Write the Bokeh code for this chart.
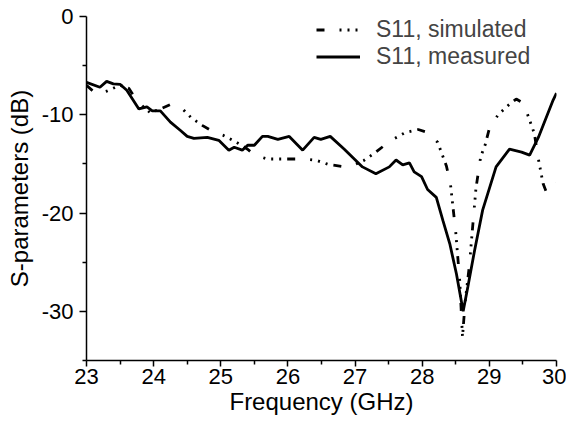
from bokeh.plotting import figure
from bokeh.models import FixedTicker, Legend, LegendItem, Range1d
from bokeh.embed import file_html
from bokeh.resources import INLINE

meas_freq = [23.0, 23.2, 23.3, 23.4, 23.5, 23.6, 23.78, 23.9, 23.98, 24.1, 24.25, 24.4, 24.5,
             24.6, 24.8, 24.97, 25.12, 25.2, 25.32, 25.4, 25.5, 25.62, 25.7, 25.85, 26.02,
             26.22, 26.39, 26.49, 26.63, 26.84, 27.11, 27.31, 27.51, 27.61, 27.71, 27.81,
             27.88, 27.99, 28.08, 28.21, 28.31, 28.41, 28.51, 28.61, 28.68, 28.78, 28.9,
             29.1, 29.3, 29.48, 29.6, 29.73, 29.95, 30.0]
meas_s11 = [-6.7, -7.2, -6.6, -6.85, -6.9, -7.5, -9.4, -9.2, -9.6, -9.6, -10.75, -11.6, -12.2,
            -12.4, -12.3, -12.6, -13.6, -13.3, -13.6, -13.1, -13.1, -12.2, -12.2, -12.5, -12.2,
            -13.6, -12.3, -12.5, -12.2, -13.5, -15.3, -16.0, -15.3, -14.6, -15.1, -14.9,
            -15.8, -16.3, -17.6, -18.4, -20.8, -23.1, -26.2, -30.0, -27.5, -23.8, -19.7,
            -15.3, -13.5, -13.8, -14.1, -12.3, -8.5, -7.8]

sim_freq = [23.0, 23.15, 23.3, 23.5, 23.63, 23.75, 23.95, 24.1, 24.25, 24.43, 24.56, 24.73,
            24.88, 25.04, 25.21, 25.4, 25.5, 25.7, 25.88, 26.1, 26.25, 26.43, 26.6, 26.8,
            26.97, 27.13, 27.29, 27.44, 27.59, 27.75, 27.94, 28.08, 28.23, 28.29, 28.36,
            28.42, 28.5, 28.56, 28.6, 28.64, 28.7, 28.75, 28.8, 28.87, 28.94, 29.0, 29.13,
            29.28, 29.4, 29.5, 29.55, 29.67, 29.73, 29.8, 29.85, 30.0]
sim_s11 = [-7.0, -7.9, -7.6, -7.0, -7.3, -8.6, -9.8, -9.4, -8.95, -9.4, -10.3, -11.1,
           -11.7, -12.1, -12.7, -13.5, -14.1, -14.5, -14.5, -14.5, -14.5, -14.65, -15.05, -15.25,
           -15.15, -14.65, -13.9, -13.1, -12.4, -11.8, -11.5, -11.8, -12.8, -13.9, -15.2,
           -17.0, -22.0, -27.0, -32.6, -29.0, -25.5, -21.5, -17.5, -14.3, -13.0, -11.4, -10.0,
           -9.05, -8.4, -8.8, -9.6, -11.9, -14.5, -17.0, -17.9, -17.0]

x_ticks = [23, 24, 25, 26, 27, 28, 29, 30]
x_minor = [23.5, 24.5, 25.5, 26.5, 27.5, 28.5, 29.5]
y_ticks = [-30, -20, -10, 0]
y_minor = [-35, -25, -15, -5]

FONT = "Liberation Sans"

p = figure(width=566, height=423, output_backend="svg", toolbar_location=None,
           x_range=Range1d(23, 30), y_range=Range1d(-35, 0),
           min_border_left=86, min_border_right=10, min_border_top=16, min_border_bottom=63)
p.outline_line_color = None
p.xgrid.visible = False
p.ygrid.visible = False
p.background_fill_color = "white"

r_sim = p.line(sim_freq, sim_s11, line_color="black", line_width=2.8,
               line_dash="8 15 2 6 2 6 2 6")
r_meas = p.line(meas_freq, meas_s11, line_color="black", line_width=2.8)

for ax in (p.xaxis[0], p.yaxis[0]):
    ax.axis_line_width = 1.5
    ax.major_tick_line_width = 1.5
    ax.minor_tick_line_width = 1.5
    ax.major_label_text_font = FONT
    ax.major_label_text_font_size = "22px"
    ax.major_label_text_color = "black"
    ax.axis_label_text_font = FONT
    ax.axis_label_text_font_size = "24px"
    ax.axis_label_text_font_style = "normal"
    ax.axis_label_text_color = "black"
    ax.major_tick_in = 0
    ax.minor_tick_in = 0

p.xaxis[0].ticker = FixedTicker(ticks=x_ticks, minor_ticks=x_minor)
p.yaxis[0].ticker = FixedTicker(ticks=y_ticks, minor_ticks=y_minor)
p.xaxis[0].major_label_overrides = {t: str(t) for t in x_ticks}
p.yaxis[0].major_label_overrides = {t: str(t) for t in y_ticks}
p.xaxis[0].major_tick_out = 6
p.xaxis[0].minor_tick_out = 4
p.yaxis[0].major_tick_out = 7
p.yaxis[0].minor_tick_out = 4
p.xaxis[0].major_label_standoff = 2
p.yaxis[0].major_label_standoff = 6
p.xaxis[0].axis_label = "Frequency (GHz)"
p.yaxis[0].axis_label = "S-parameters (dB)"
p.xaxis[0].axis_label_standoff = 1
p.yaxis[0].axis_label_standoff = 6

legend = Legend(items=[LegendItem(label="S11, simulated", renderers=[r_sim]),
                       LegendItem(label="S11, measured", renderers=[r_meas])],
                location=(230, 290), padding=0, spacing=0, margin=0,
                glyph_width=44, glyph_height=27, label_height=27, label_standoff=16,
                label_text_font=FONT, label_text_font_size="23px",
                border_line_alpha=0, background_fill_alpha=0)
p.add_layout(legend)

open("out.html", "w").write(file_html(p, INLINE))
